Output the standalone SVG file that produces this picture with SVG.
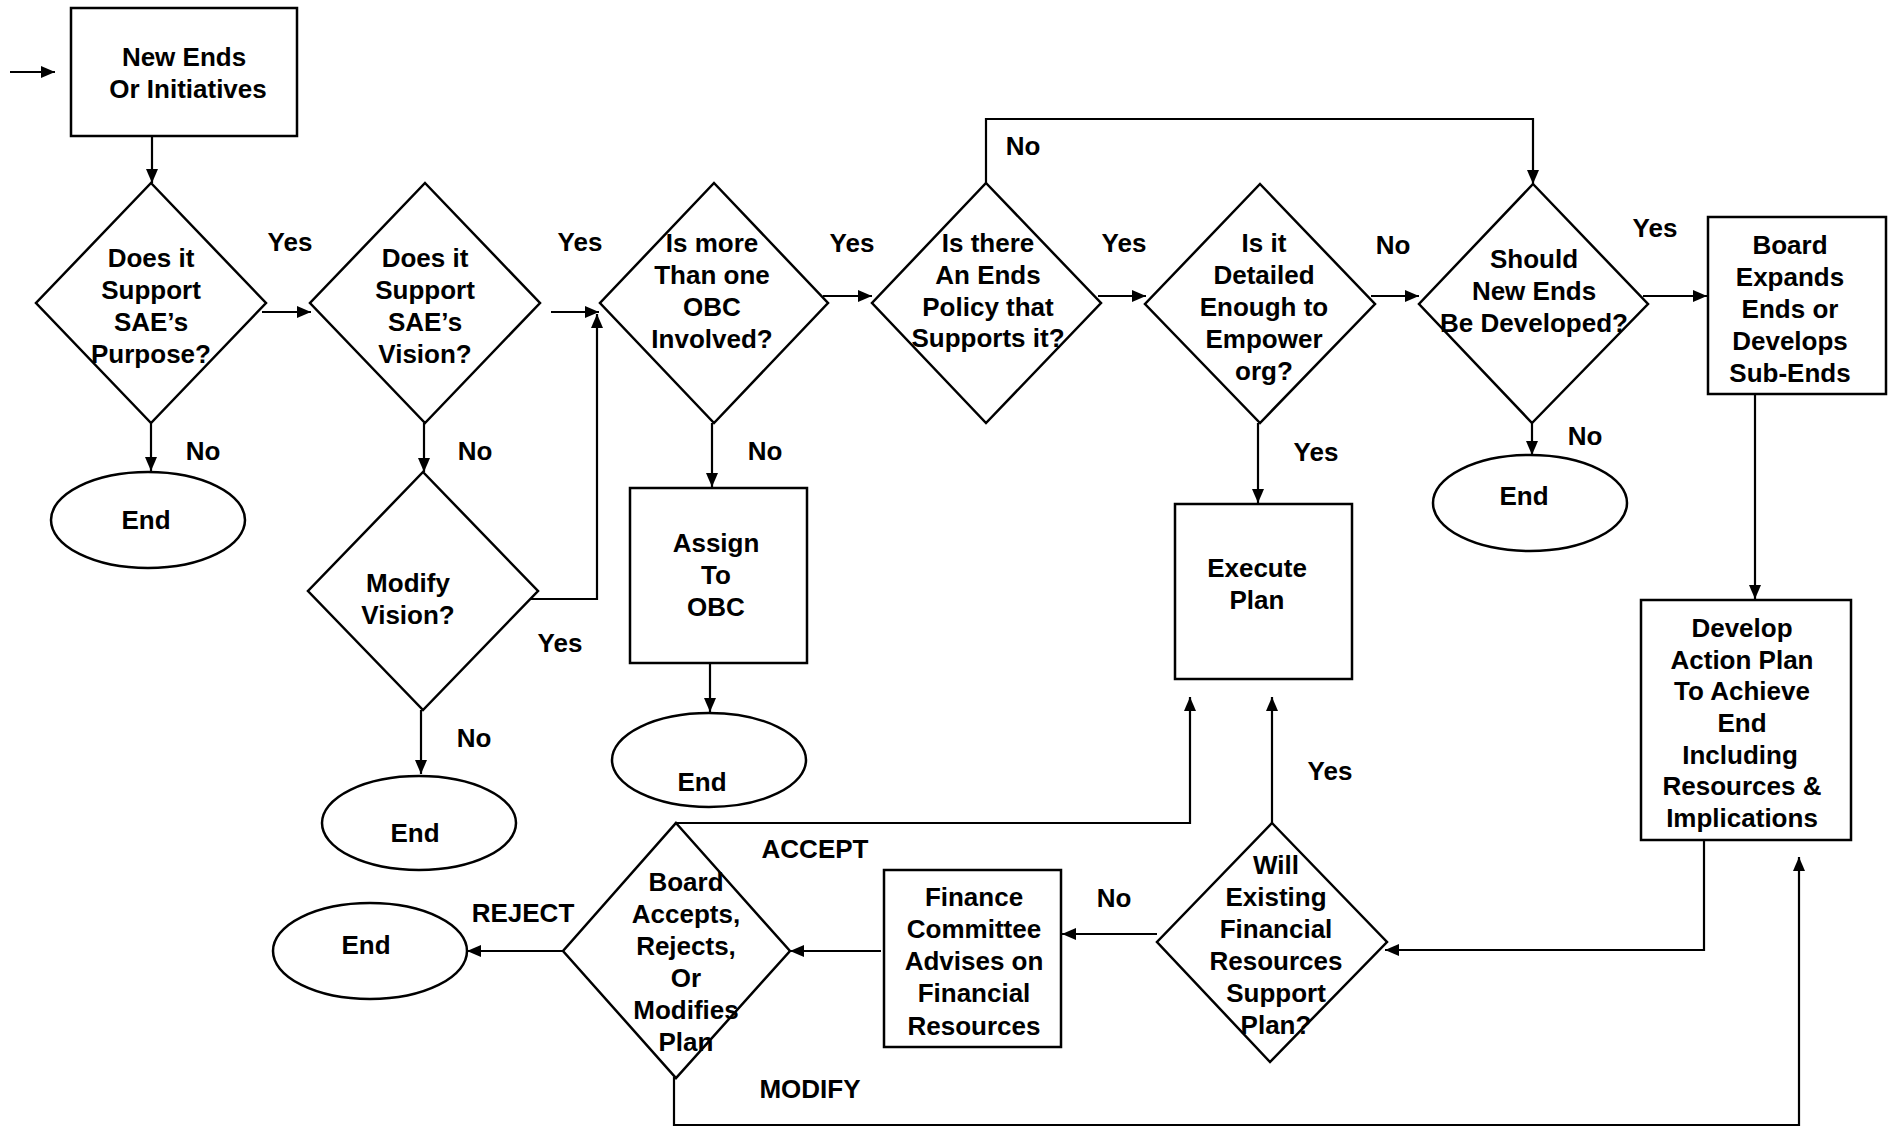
<svg xmlns="http://www.w3.org/2000/svg" width="1888" height="1127" viewBox="0 0 1888 1127">
<style>
.s{fill:#fff;stroke:#000;stroke-width:2.5}
.c{fill:none;stroke:#000;stroke-width:2.2}
text{font-family:"Liberation Sans",Arial,sans-serif;font-weight:bold;font-size:26px;fill:#000;text-anchor:middle}
</style>
<defs>
<marker id="a" markerUnits="userSpaceOnUse" markerWidth="14" markerHeight="12" refX="14" refY="6" orient="auto">
<path d="M0,0 L14,6 L0,12 z" fill="#000"/>
</marker>
</defs>
<rect width="1888" height="1127" fill="#fff"/>
<g id="connectors" class="c">
<path d="M10,72 H55" marker-end="url(#a)"/>
<path d="M152,136 V183" marker-end="url(#a)"/>
<path d="M262,312 H311" marker-end="url(#a)"/>
<path d="M151,423 V471" marker-end="url(#a)"/>
<path d="M424,423 V472" marker-end="url(#a)"/>
<path d="M551,312 H599" marker-end="url(#a)"/>
<path d="M531,599 H597 V314" marker-end="url(#a)"/>
<path d="M421,710 V774" marker-end="url(#a)"/>
<path d="M712,423 V487" marker-end="url(#a)"/>
<path d="M710,663 V712" marker-end="url(#a)"/>
<path d="M823,296 H872" marker-end="url(#a)"/>
<path d="M986,183 V119 H1533 V184" marker-end="url(#a)"/>
<path d="M1098,296 H1146" marker-end="url(#a)"/>
<path d="M1371,296 H1419" marker-end="url(#a)"/>
<path d="M1643,296 H1707" marker-end="url(#a)"/>
<path d="M1532,423 V455" marker-end="url(#a)"/>
<path d="M1258,423 V503" marker-end="url(#a)"/>
<path d="M1755,394 V599" marker-end="url(#a)"/>
<path d="M1704,840 V950 H1385" marker-end="url(#a)"/>
<path d="M1272,823 V697" marker-end="url(#a)"/>
<path d="M1157,934 H1062" marker-end="url(#a)"/>
<path d="M881,951 H790" marker-end="url(#a)"/>
<path d="M676,838 V823 H1190 V697" marker-end="url(#a)"/>
<path d="M564,951 H467" marker-end="url(#a)"/>
<path d="M674,1077 V1125 H1799 V857" marker-end="url(#a)"/>
</g>
<g id="labels">
<text x="290" y="251">Yes</text>
<text x="580" y="251">Yes</text>
<text x="852" y="252">Yes</text>
<text x="1124" y="252">Yes</text>
<text x="1393" y="254">No</text>
<text x="1655" y="237">Yes</text>
<text x="203" y="460">No</text>
<text x="475" y="460">No</text>
<text x="765" y="460">No</text>
<text x="1023" y="155">No</text>
<text x="1585" y="445">No</text>
<text x="1316" y="461">Yes</text>
<text x="560" y="652">Yes</text>
<text x="474" y="747">No</text>
<text x="1330" y="780">Yes</text>
<text x="1114" y="907">No</text>
<text x="815" y="858">ACCEPT</text>
<text x="523" y="922">REJECT</text>
<text x="810" y="1098">MODIFY</text>
</g>
<g id="start">
<rect class="s" x="71" y="8" width="226" height="128"/>
<text x="184" y="66">New Ends</text>
<text x="188" y="98">Or Initiatives</text>
</g>
<g id="purpose">
<polygon class="s" points="151,183 266,303 151,423 36,303"/>
<text x="151" y="267">Does it</text>
<text x="151" y="299">Support</text>
<text x="151" y="331">SAE’s</text>
<text x="151" y="363">Purpose?</text>
</g>
<g id="end1">
<ellipse class="s" cx="148" cy="520" rx="97" ry="48"/>
<text x="146" y="529">End</text>
</g>
<g id="vision">
<polygon class="s" points="425,183 540,303 425,423 310,303"/>
<text x="425" y="267">Does it</text>
<text x="425" y="299">Support</text>
<text x="425" y="331">SAE’s</text>
<text x="425" y="363">Vision?</text>
</g>
<g id="modify">
<polygon class="s" points="423,472 538,591 423,710 308,591"/>
<text x="408" y="592">Modify</text>
<text x="408" y="624">Vision?</text>
</g>
<g id="end2">
<ellipse class="s" cx="419" cy="823" rx="97" ry="47"/>
<text x="415" y="842">End</text>
</g>
<g id="obc">
<polygon class="s" points="714,183 828,303 714,423 600,303"/>
<text x="712" y="252">Is more</text>
<text x="712" y="284">Than one</text>
<text x="712" y="316">OBC</text>
<text x="712" y="348">Involved?</text>
</g>
<g id="assign">
<rect class="s" x="630" y="488" width="177" height="175"/>
<text x="716" y="552">Assign</text>
<text x="716" y="584">To</text>
<text x="716" y="616">OBC</text>
</g>
<g id="end3">
<ellipse class="s" cx="709" cy="760" rx="97" ry="47"/>
<text x="702" y="791">End</text>
</g>
<g id="policy">
<polygon class="s" points="986,183 1101,303 986,423 872,303"/>
<text x="988" y="252">Is there</text>
<text x="988" y="284">An Ends</text>
<text x="988" y="316">Policy that</text>
<text x="988" y="347">Supports it?</text>
</g>
<g id="detailed">
<polygon class="s" points="1260,184 1375,304 1260,423 1145,304"/>
<text x="1264" y="252">Is it</text>
<text x="1264" y="284">Detailed</text>
<text x="1264" y="316">Enough to</text>
<text x="1264" y="348">Empower</text>
<text x="1264" y="380">org?</text>
</g>
<g id="should">
<polygon class="s" points="1533,184 1648,304 1532,423 1419,304"/>
<text x="1534" y="268">Should</text>
<text x="1534" y="300">New Ends</text>
<text x="1534" y="332">Be Developed?</text>
</g>
<g id="end4">
<ellipse class="s" cx="1530" cy="503" rx="97" ry="48"/>
<text x="1524" y="505">End</text>
</g>
<g id="board">
<rect class="s" x="1708" y="217" width="178" height="177"/>
<text x="1790" y="254">Board</text>
<text x="1790" y="286">Expands</text>
<text x="1790" y="318">Ends or</text>
<text x="1790" y="350">Develops</text>
<text x="1790" y="382">Sub-Ends</text>
</g>
<g id="execute">
<rect class="s" x="1175" y="504" width="177" height="175"/>
<text x="1257" y="577">Execute</text>
<text x="1257" y="609">Plan</text>
</g>
<g id="develop">
<rect class="s" x="1641" y="600" width="210" height="240"/>
<text x="1742" y="637">Develop</text>
<text x="1742" y="669">Action Plan</text>
<text x="1742" y="700">To Achieve</text>
<text x="1742" y="732">End</text>
<text x="1740" y="764">Including</text>
<text x="1742" y="795">Resources &amp;</text>
<text x="1742" y="827">Implications</text>
</g>
<g id="will">
<polygon class="s" points="1272,823 1387,942 1270,1062 1157,942"/>
<text x="1276" y="874">Will</text>
<text x="1276" y="906">Existing</text>
<text x="1276" y="938">Financial</text>
<text x="1276" y="970">Resources</text>
<text x="1276" y="1002">Support</text>
<text x="1276" y="1034">Plan?</text>
</g>
<g id="finance">
<rect class="s" x="884" y="870" width="177" height="177"/>
<text x="974" y="906">Finance</text>
<text x="974" y="938">Committee</text>
<text x="974" y="970">Advises on</text>
<text x="974" y="1002">Financial</text>
<text x="974" y="1035">Resources</text>
</g>
<g id="decide">
<polygon class="s" points="676,823 790,951 676,1078 563,951"/>
<text x="686" y="891">Board</text>
<text x="686" y="923">Accepts,</text>
<text x="686" y="955">Rejects,</text>
<text x="686" y="987">Or</text>
<text x="686" y="1019">Modifies</text>
<text x="686" y="1051">Plan</text>
</g>
<g id="end5">
<ellipse class="s" cx="370" cy="951" rx="97" ry="48"/>
<text x="366" y="954">End</text>
</g>
</svg>
